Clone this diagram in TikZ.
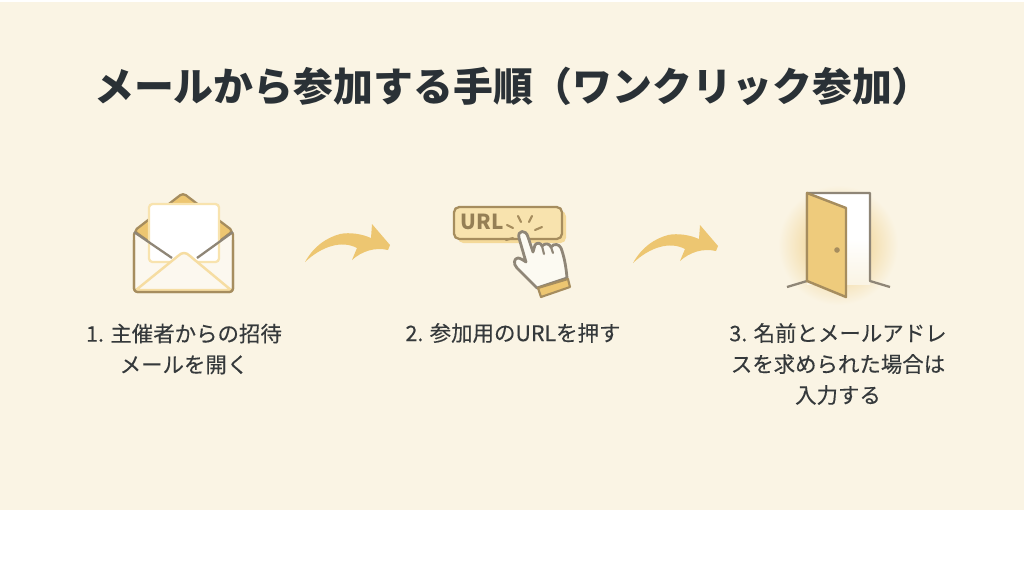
\documentclass[tikz,border=0pt]{standalone}
\usepackage{fontspec}
\setmainfont{Noto Sans CJK JP}
\newfontfamily\labelfont[FakeBold=0.3]{Noto Sans CJK JP}
\definecolor{paper}{HTML}{FAF4E4}
\definecolor{gold}{HTML}{EDC671}
\definecolor{palegold}{HTML}{F8E3AE}
\definecolor{linegold}{HTML}{A68D5E}
\definecolor{linegray}{HTML}{8F8677}
\definecolor{inktext}{HTML}{35393B}
\definecolor{titleink}{HTML}{2A3136}
\tikzset{
    steplabel/.style={text=inktext, font=\labelfont\fontsize{12.2pt}{17.6pt}\selectfont, align=center},
    iconline/.style={draw=linegold, line width=1.3pt, line join=round, line cap=round},
    bendarrow/.style={fill=gold, draw=none},
}
\begin{document}
\begin{tikzpicture}[x=0.02cm, y=-0.02cm]
    \useasboundingbox (0,0) rectangle (1024,576);
    % Background
    \fill[white] (0,0) rectangle (1024,576);
    \fill[paper] (0,2) rectangle (1024,510);
    % Title
    \node[text=titleink, font=\bfseries\fontsize{22.7pt}{26pt}\selectfont] (title) at (513,86) {メールから参加する手順（ワンクリック参加）};

    % Envelope
    \fill[gold, draw=linegold, line width=1.3pt, line join=round, rounded corners=2pt] (134,231) -- (183,193) -- (233,231) -- (183,270) -- cycle;
    \draw[iconline, fill=paper!60!white, rounded corners=2pt] (134,231) -- (134,292) -- (233,292) -- (233,231) -- (197,258) -- (172,258) -- cycle;
    \draw[draw=palegold, line width=1.3pt, fill=white, rounded corners=2pt] (149,204) rectangle (219,262);
    \draw[linegray, line width=1.3pt] (134,232) -- (172,258);
    \draw[linegray, line width=1.3pt] (233,232) -- (197,258);
    \draw[draw=palegold!80!gold, line width=1.4pt, fill=paper!60!white, line join=round] (136,290) -- (178,256) .. controls (182,252) and (186,252) .. (190,256) -- (231,290) -- cycle;
    \draw[linegold, line width=1.3pt, rounded corners=2pt] (134,240) -- (134,292) -- (233,292) -- (233,240);

    % Curved arrows
    \foreach \x/\y in {0/0, 328/1} {
        \fill[bendarrow, shift={(\x,\y)}] (305,262) .. controls (314,246) and (326,238) .. (340,234)
            .. controls (350,232) and (362,234) .. (371,238)
            -- (372,224) -- (390,245) -- (388,250) .. controls (375,247) and (362,251) .. (352,260)
            -- (357,248) .. controls (342,240) and (322,246) .. (305,262) -- cycle;
    }

    % URL button
    \fill[palegold!65!gold, rounded corners=3pt] (458,211) rectangle (566,243);
    \draw[draw=linegold, line width=1.3pt, fill=palegold, rounded corners=3pt] (454,207) rectangle (562,239);
    \node[text=linegold!90!black, font=\bfseries\fontsize{11.8pt}{14pt}\selectfont, inner sep=0pt] (urltext) at (482,222) {URL};
    % Sparks
    \foreach \xa/\ya/\xb/\yb in {507/225/513/228, 518/216/521/222, 532/216/529/222, 542/227/535/230, 506/240/513/238} {
        \draw[linegold, line width=1.2pt, line cap=round] (\xa,\ya) -- (\xb,\yb);
    }
    % Hand
    \draw[draw=linegray, line width=1.6pt, line join=round, fill=paper!50!white] (537,288) -- (517,268)
        .. controls (513,264) and (514,258) .. (518,258)
        .. controls (520,258) and (523,260) .. (526,262)
        -- (519,238) .. controls (517,230) and (526,229) .. (528,237)
        -- (533,252) -- (535,245) .. controls (537,242) and (541,243) .. (542,246)
        .. controls (545,243) and (549,243) .. (551,247)
        .. controls (554,243) and (559,244) .. (561,248)
        .. controls (564,256) and (566,266) .. (567,278) -- cycle;
    \draw[linegray, line width=1.2pt, line cap=round] (542,246) -- (544,254);
    \draw[linegray, line width=1.2pt, line cap=round] (551,247) -- (553,253);
    % Cuff
    \draw[draw=linegold, line width=1.2pt, fill=gold, line join=round] (538,288) -- (568,279) -- (570,287) -- (541,297) -- cycle;

    % Door
    \shade[inner color=gold, outer color=paper] (838,245) circle (60);
    \fill[top color=white, bottom color=paper, middle color=white] (807,193) rectangle (870,284);
    \draw[linegray, line width=1.3pt, line join=round] (787,287) -- (807,281) -- (807,193) -- (870,193) -- (870,281) -- (890,287);
    \draw[draw=linegold, line width=1.4pt, fill=gold!92!white, line join=round] (807,193) -- (846,208) -- (846,297) -- (807,281) -- cycle;
    \fill[linegold] (837,250) circle (2.8);

    % Step labels
    \node[steplabel] (stepone) at (184,349) {1. 主催者からの招待\\メールを開く};
    \node[steplabel] (steptwo) at (513,333) {2. 参加用のURLを押す};
    \node[steplabel] (stepthree) at (838,364) {3. 名前とメールアドレ\\スを求められた場合は\\入力する};
\end{tikzpicture}
\end{document}
